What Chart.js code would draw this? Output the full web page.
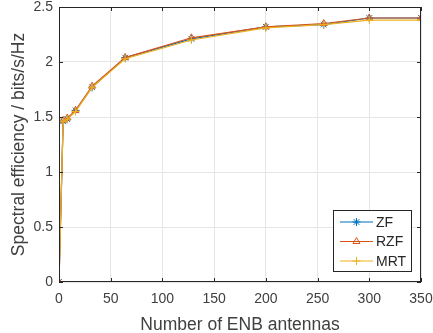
<!DOCTYPE html>
<html>
<head>
<meta charset="utf-8">
<script src="https://cdn.jsdelivr.net/npm/chart.js@4"></script>
<style>
  html, body { margin: 0; padding: 0; background: #fff; }
  #wrap { width: 433px; height: 333px; }
</style>
</head>
<body>
<div id="wrap"><canvas id="chart" width="433" height="333"></canvas></div>
<script>
// data
const antennas = [0, 4, 8, 16, 32, 64, 128, 200, 256, 300, 350];
const zf  = [0, 1.46, 1.48, 1.56, 1.77, 2.04, 2.21, 2.32, 2.34, 2.40, 2.40];
const rzf = [0, 1.47, 1.49, 1.56, 1.78, 2.04, 2.22, 2.32, 2.35, 2.40, 2.40];
const mrt = [0, 1.46, 1.48, 1.55, 1.77, 2.03, 2.20, 2.31, 2.34, 2.38, 2.38];
const xTicks = [0, 50, 100, 150, 200, 250, 300, 350];
const yTicks = [0, 0.5, 1, 1.5, 2, 2.5];

const FONT = '"Liberation Sans", Arial, Helvetica, sans-serif';
const TXT = '#262626';

function pts(ys) {
  return antennas.map((a, i) => ({ x: a, y: ys[i] }));
}

const datasets = [
  { label: 'ZF', data: pts(zf), borderColor: '#0072BD', pointStyle: 'star', order: 3 },
  { label: 'RZF', data: pts(rzf), borderColor: '#D95319', pointStyle: 'triangle', order: 2 },
  { label: 'MRT', data: pts(mrt), borderColor: '#EDB120', pointStyle: 'cross', order: 1 }
].map(d => Object.assign(d, {
  borderWidth: 1.2,
  pointBorderColor: d.borderColor,
  pointBackgroundColor: 'rgba(0,0,0,0)',
  pointBorderWidth: 1,
  pointRadius: 4,
  tension: 0,
  fill: false
}));

// box, inward ticks and legend like matlab
const matlabBox = {
  id: 'matlabBox',
  afterDraw(chart) {
    const ctx = chart.ctx;
    const a = chart.chartArea;
    const xs = chart.scales.x, ys = chart.scales.y;
    ctx.save();
    ctx.strokeStyle = '#262626';
    ctx.lineWidth = 1;
    ctx.strokeRect(a.left + 0.5, a.top + 0.5, a.right - a.left - 1, a.bottom - a.top - 1);
    ctx.beginPath();
    xTicks.forEach(t => {
      const px = Math.round(xs.getPixelForValue(t)) + 0.5;
      ctx.moveTo(px, a.bottom); ctx.lineTo(px, a.bottom - 4);
      ctx.moveTo(px, a.top); ctx.lineTo(px, a.top + 4);
    });
    yTicks.forEach(t => {
      const py = Math.round(ys.getPixelForValue(t)) + 0.5;
      ctx.moveTo(a.left, py); ctx.lineTo(a.left + 4, py);
      ctx.moveTo(a.right, py); ctx.lineTo(a.right - 4, py);
    });
    ctx.stroke();

    // legend
    const lx = 333, ly = 210, lw = 78, lh = 61;
    ctx.fillStyle = '#fff';
    ctx.fillRect(lx, ly, lw, lh);
    ctx.strokeStyle = '#262626';
    ctx.strokeRect(lx + 0.5, ly + 0.5, lw, lh);
    ctx.font = '14px ' + FONT;
    ctx.textBaseline = 'middle';
    chart.data.datasets.forEach((d, i) => {
      const cy = 222 + i * 19.5;
      ctx.strokeStyle = d.borderColor;
      ctx.lineWidth = 1.2;
      ctx.beginPath();
      ctx.moveTo(340, cy); ctx.lineTo(373, cy);
      ctx.stroke();
      ctx.lineWidth = 1;
      ctx.fillStyle = 'rgba(0,0,0,0)';
      Chart.helpers.drawPoint(ctx, { pointStyle: d.pointStyle, radius: 4, borderWidth: 1 }, 356.5, cy);
      ctx.fillStyle = TXT;
      ctx.fillText(d.label, 376, cy + 1);
    });
    ctx.restore();
  }
};

new Chart(document.getElementById('chart'), {
  type: 'line',
  data: { datasets },
  options: {
    responsive: false,
    animation: false,
    layout: { padding: { top: 7, right: 12, left: 0, bottom: 0 } },
    plugins: { legend: { display: false }, tooltip: { enabled: false } },
    scales: {
      x: {
        type: 'linear',
        min: 0, max: 350,
        afterBuildTicks: s => { s.ticks = xTicks.map(v => ({ value: v })); },
        afterFit: s => { s.height = 51; s.paddingLeft = 0; s.paddingRight = 0; },
        grid: { color: '#e6e6e6', drawTicks: false },
        border: { display: false },
        ticks: { color: '#404040', font: { family: FONT, size: 14 }, padding: 9, maxRotation: 0,
                 callback: v => String(v) },
        title: { display: true, text: 'Number of ENB antennas', color: '#404040',
                 font: { family: FONT, size: 17.5 }, padding: { top: 0, bottom: -3 } }
      },
      y: {
        min: 0, max: 2.5,
        afterBuildTicks: s => { s.ticks = yTicks.map(v => ({ value: v })); },
        afterFit: s => { s.width = 59; s.paddingTop = 0; s.paddingBottom = 0; },
        grid: { color: '#e6e6e6', drawTicks: false },
        border: { display: false },
        ticks: { color: '#404040', font: { family: FONT, size: 14 }, padding: 6,
                 callback: v => String(v) },
        title: { display: true, text: 'Spectral efficiency / bits/s/Hz', color: '#404040',
                 font: { family: FONT, size: 17.5 }, padding: { top: 9, bottom: 0 } }
      }
    }
  },
  plugins: [matlabBox]
});
</script>
</body>
</html>
